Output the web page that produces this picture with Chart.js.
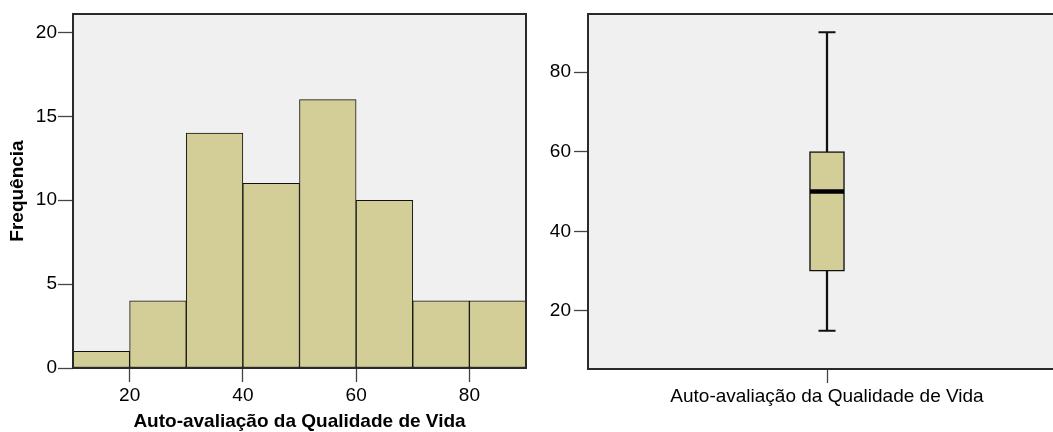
<!DOCTYPE html>
<html lang="pt">
<head>
<meta charset="utf-8">
<title>Auto-avaliação da Qualidade de Vida</title>
<script src="https://cdn.jsdelivr.net/npm/chart.js@4.4.1/dist/chart.umd.min.js"></script>
<style>
    html, body { margin: 0; padding: 0; background: #fff; overflow: hidden; }
    body { width: 1053px; height: 432px; position: relative; }
    #graficoHistograma { position: absolute; left: 0; top: 0; }
    #graficoCaixa { position: absolute; left: 530px; top: 0; }
</style>
</head>
<body>
<canvas id="graficoHistograma" width="530" height="432"></canvas>
<canvas id="graficoCaixa" width="540" height="432"></canvas>
<script>
// histograma
let limitesClasses = [10, 20, 30, 40, 50, 60, 70, 80, 90];
let frequencias = [1, 4, 14, 11, 16, 10, 4, 4];
let ticksX = [20, 40, 60, 80];
let ticksFreq = [0, 5, 10, 15, 20];

// diagrama de caixa
let rotuloVariavel = "Auto-avaliação da Qualidade de Vida";
let bigodes = [15, 90];
let quartis = [30, 50, 60];
let ticksCaixa = [20, 40, 60, 80];

let fonte = "'Liberation Sans', Arial, sans-serif";
let corBarra = "#d3ce97";
let corLinha = "#111";

let areaPlot = {
    id: "areaPlot",
    beforeDraw(chart) {
        let a = chart.chartArea;
        let ctx = chart.ctx;
        ctx.save();
        ctx.fillStyle = "#f0f0f0";
        ctx.fillRect(a.left, a.top, a.right - a.left, a.bottom - a.top);
        ctx.restore();
    },
    afterDraw(chart) {
        let a = chart.chartArea;
        let ctx = chart.ctx;
        ctx.save();
        ctx.strokeStyle = "#2a2a2a";
        ctx.lineWidth = 2;
        ctx.strokeRect(a.left, a.top, a.right - a.left, a.bottom - a.top);
        ctx.restore();
    }
};

function fixarTicks(valores) {
    return function (escala) {
        escala.ticks = valores.map(v => ({ value: v }));
    };
}

// tamanho fixo dos eixos, sem folga extra para os rótulos
function larguraEixo(w) {
    return function (s) {
        s.width = w;
        s.paddingTop = 0;
        s.paddingBottom = 0;
    };
}

function alturaEixo(h) {
    return function (s) {
        s.height = h;
        s.paddingLeft = 0;
        s.paddingRight = 0;
    };
}

let dadosHist = frequencias.map(function (f, i) {
    return { x: (limitesClasses[i] + limitesClasses[i + 1]) / 2, y: f };
});

new Chart(document.getElementById("graficoHistograma"), {
    type: "bar",
    data: {
        datasets: [{
            data: dadosHist,
            backgroundColor: corBarra,
            borderColor: corLinha,
            borderWidth: 1,
            borderSkipped: false,
            barPercentage: 1,
            categoryPercentage: 1
        }]
    },
    options: {
        responsive: false,
        animation: false,
        layout: { autoPadding: false, padding: { top: 14, right: 4, left: 0, bottom: 0 } },
        plugins: { legend: { display: false }, tooltip: { enabled: false } },
        scales: {
            x: {
                type: "linear",
                min: limitesClasses[0],
                max: limitesClasses[limitesClasses.length - 1],
                offset: false,
                afterBuildTicks: fixarTicks(ticksX),
                afterFit: alturaEixo(64),
                border: { display: false },
                grid: { offset: false, drawOnChartArea: false, drawTicks: true, tickLength: 14, tickColor: "#444", tickWidth: 1.3 },
                ticks: { color: "#000", padding: 2, font: { size: 19, family: fonte } },
                title: {
                    display: true,
                    text: rotuloVariavel,
                    color: "#000",
                    font: { size: 19, weight: "bold", family: fonte, lineHeight: 1 },
                    padding: { top: 0, bottom: 1 }
                }
            },
            y: {
                min: 0,
                max: 21.1,
                afterBuildTicks: fixarTicks(ticksFreq),
                afterFit: larguraEixo(73),
                border: { display: false },
                grid: { drawOnChartArea: false, drawTicks: true, tickLength: 15, tickColor: "#444", tickWidth: 1.3 },
                ticks: { color: "#000", padding: 1, font: { size: 19, family: fonte } },
                title: {
                    display: true,
                    text: "Frequência",
                    color: "#000",
                    font: { size: 19, weight: "bold", family: fonte, lineHeight: 1 },
                    padding: { top: 8, bottom: 0 }
                }
            }
        }
    },
    plugins: [areaPlot]
});

new Chart(document.getElementById("graficoCaixa"), {
    type: "bar",
    data: {
        labels: [rotuloVariavel],
        datasets: [
            {
                data: [[bigodes[0], bigodes[1]]],
                backgroundColor: corLinha,
                borderWidth: 0,
                barThickness: 1.6,
                grouped: false,
                order: 3
            },
            {
                data: [[quartis[0], quartis[2]]],
                backgroundColor: corBarra,
                borderColor: corLinha,
                borderWidth: 1.5,
                borderSkipped: false,
                barThickness: 35,
                grouped: false,
                order: 2
            },
            {
                type: "line",
                data: bigodes.map(v => ({ x: rotuloVariavel, y: v })),
                showLine: false,
                pointStyle: "line",
                pointRadius: 8.5,
                pointBorderWidth: 2,
                pointBorderColor: corLinha,
                order: 1
            },
            {
                type: "line",
                data: [{ x: rotuloVariavel, y: quartis[1] }],
                showLine: false,
                pointStyle: "line",
                pointRadius: 17,
                pointBorderWidth: 4.5,
                pointBorderColor: "#000",
                order: 0
            }
        ]
    },
    options: {
        responsive: false,
        animation: false,
        layout: { autoPadding: false, padding: { top: 14, right: 4, left: 0, bottom: 0 } },
        plugins: { legend: { display: false }, tooltip: { enabled: false } },
        scales: {
            x: {
                afterFit: alturaEixo(63),
                border: { display: false },
                grid: { offset: false, drawOnChartArea: false, drawTicks: true, tickLength: 14, tickColor: "#444", tickWidth: 1.3 },
                ticks: { color: "#000", padding: 2, font: { size: 19, family: fonte } }
            },
            y: {
                min: 5.4,
                max: 94.6,
                afterBuildTicks: fixarTicks(ticksCaixa),
                afterFit: larguraEixo(58),
                border: { display: false },
                grid: { drawOnChartArea: false, drawTicks: true, tickLength: 14, tickColor: "#444", tickWidth: 1.3 },
                ticks: { color: "#000", padding: 3, font: { size: 19, family: fonte } }
            }
        }
    },
    plugins: [areaPlot]
});
</script>
</body>
</html>
